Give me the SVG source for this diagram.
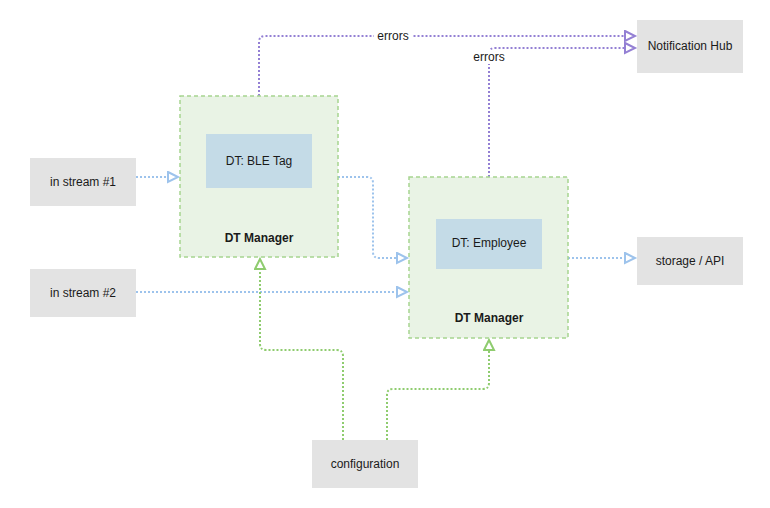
<svg xmlns="http://www.w3.org/2000/svg" width="770" height="508" viewBox="0 0 770 508">
<style>
text{font-family:"Liberation Sans",Arial,sans-serif;font-size:12px;fill:#1a1a1a;text-anchor:middle;dominant-baseline:central}
.b{font-weight:bold}
.gray{fill:#e3e3e3}
.mgr{fill:#e9f3e5;stroke:#a6d590;stroke-width:1.5;stroke-dasharray:4 3}
.dt{fill:#c4dbe7}
.c{fill:none;stroke-width:2;stroke-dasharray:2 2}
.blue{stroke:#9dc3ec}
.purple{stroke:#9480d4}
.green{stroke:#8fcc6f}
.lbl{fill:#ffffff}
</style>
<defs>
<marker id="ab" markerUnits="userSpaceOnUse" markerWidth="14" markerHeight="14" refX="11" refY="6" orient="auto"><path d="M1,1 L11,6 L1,11 Z" fill="#ffffff" stroke="#9dc3ec" stroke-width="2"/></marker>
<marker id="ap" markerUnits="userSpaceOnUse" markerWidth="14" markerHeight="14" refX="11" refY="6" orient="auto"><path d="M1,1 L11,6 L1,11 Z" fill="#ffffff" stroke="#9480d4" stroke-width="2"/></marker>
<marker id="ag" markerUnits="userSpaceOnUse" markerWidth="14" markerHeight="14" refX="11" refY="6" orient="auto"><path d="M1,1 L11,6 L1,11 Z" fill="#ffffff" stroke="#8fcc6f" stroke-width="2"/></marker>
</defs>
<g id="connectors">
<path class="c blue" d="M136,177 L178,177" marker-end="url(#ab)"/>
<path class="c blue" d="M136,292 L407,292" marker-end="url(#ab)"/>
<path class="c blue" d="M338,177 L367,177 Q373,177 373,183 L373,252 Q373,258 379,258 L407,258" marker-end="url(#ab)"/>
<path class="c blue" d="M568,258 L635,258" marker-end="url(#ab)"/>
<path class="c purple" d="M259,96 L259,42 Q259,36 265,36 L635,36" marker-end="url(#ap)"/>
<path class="c purple" d="M489,177 L489,54 Q489,48 495,48 L635,48" marker-end="url(#ap)"/>
<path class="c green" d="M343,440 L343,356 Q343,350 337,350 L266,350 Q260,350 260,344 L260,259" marker-end="url(#ag)"/>
<path class="c green" d="M387,440 L387,395 Q387,389 393,389 L483,389 Q489,389 489,383 L489,340" marker-end="url(#ag)"/>
<rect class="lbl" x="374" y="29" width="38" height="14"/>
<text x="393" y="36">errors</text>
<rect class="lbl" x="470" y="50" width="38" height="14"/>
<text x="489" y="57">errors</text>
</g>
<g id="stream1"><rect class="gray" x="30" y="158" width="106" height="48"/><text x="83" y="182">in stream #1</text></g>
<g id="stream2"><rect class="gray" x="30" y="269" width="106" height="48"/><text x="83" y="293">in stream #2</text></g>
<g id="manager1"><rect class="mgr" x="180" y="96" width="158" height="161"/><text class="b" x="259" y="238">DT Manager</text></g>
<g id="bletag"><rect class="dt" x="206" y="134" width="106" height="54"/><text x="259" y="161">DT: BLE Tag</text></g>
<g id="manager2"><rect class="mgr" x="409" y="177" width="159" height="161"/><text class="b" x="489" y="318">DT Manager</text></g>
<g id="employee"><rect class="dt" x="436" y="219" width="106" height="50"/><text x="489" y="243">DT: Employee</text></g>
<g id="storage"><rect class="gray" x="637" y="237" width="106" height="48"/><text x="690" y="261">storage / API</text></g>
<g id="hub"><rect class="gray" x="637" y="20" width="106" height="53"/><text x="690" y="46">Notification Hub</text></g>
<g id="config"><rect class="gray" x="312" y="440" width="106" height="48"/><text x="365" y="464">configuration</text></g>
</svg>
